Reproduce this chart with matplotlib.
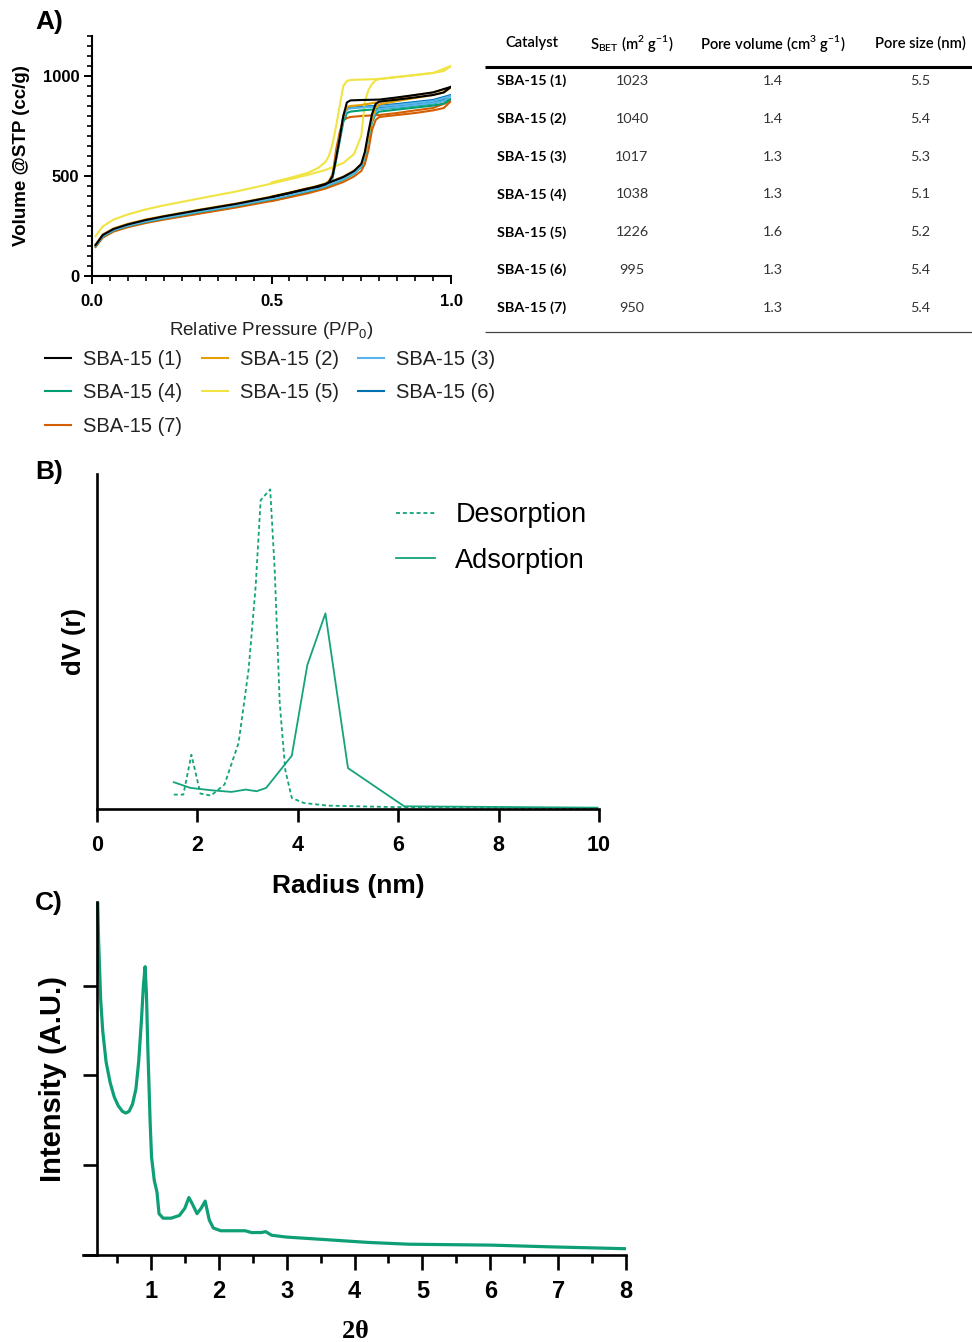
import numpy as np
import matplotlib
matplotlib.use("Agg")
import matplotlib.pyplot as plt

plt.rcParams['font.family'] = ['Liberation Sans', 'DejaVu Sans']

#### data: panel A isotherms
names = ['SBA-15 (1)', 'SBA-15 (2)', 'SBA-15 (3)', 'SBA-15 (4)',
         'SBA-15 (5)', 'SBA-15 (6)', 'SBA-15 (7)']
colors = ['#000000', '#E69F00', '#56B4E9', '#009E73', '#F0E442', '#0072B2', '#D55E00']

p_ads = [0.01, 0.03, 0.06, 0.10, 0.15, 0.20, 0.30, 0.40, 0.50, 0.60, 0.65, 0.70,
         0.73, 0.75, 0.76, 0.77, 0.78, 0.79, 0.80, 0.85, 0.90, 0.95, 0.98, 1.00]
v_ads = [
    [155, 205, 235, 258, 280, 298, 330, 360, 395, 435, 460, 495, 525, 560, 620, 720, 810, 860, 872, 882, 893, 905, 918, 946],
    [158, 208, 238, 261, 283, 300, 332, 362, 397, 437, 462, 497, 527, 558, 610, 700, 790, 840, 858, 875, 890, 905, 918, 942],
    [152, 200, 230, 252, 273, 290, 322, 352, 386, 425, 450, 485, 515, 548, 600, 700, 780, 820, 835, 845, 855, 865, 875, 900],
    [150, 198, 228, 250, 271, 288, 320, 350, 384, 423, 447, 482, 512, 545, 595, 690, 770, 810, 822, 832, 842, 852, 862, 885],
    [200, 248, 282, 308, 333, 353, 388, 422, 462, 505, 530, 565, 610, 700, 870, 930, 960, 978, 985, 995, 1005, 1015, 1025, 1050],
    [153, 202, 232, 254, 275, 292, 324, 354, 388, 428, 452, 488, 518, 550, 605, 705, 785, 825, 840, 850, 860, 870, 880, 905],
    [145, 192, 222, 244, 265, 282, 312, 342, 375, 413, 437, 470, 498, 525, 560, 630, 730, 780, 795, 805, 815, 828, 840, 875],
]
p_des = [1.00, 0.95, 0.90, 0.85, 0.80, 0.75, 0.72, 0.71, 0.70, 0.69, 0.68, 0.67,
         0.66, 0.65, 0.63, 0.60, 0.55, 0.50]
v_des = [
    [946, 918, 905, 893, 882, 880, 878, 868, 800, 690, 590, 500, 470, 458, 446, 437, 415, 395],
    [942, 918, 905, 890, 870, 855, 850, 845, 800, 700, 600, 510, 475, 462, 449, 439, 417, 397],
    [900, 875, 865, 855, 848, 842, 838, 832, 790, 690, 590, 495, 465, 453, 438, 427, 406, 386],
    [885, 862, 852, 842, 835, 828, 822, 815, 770, 675, 580, 490, 462, 450, 436, 425, 404, 384],
    [1050, 1015, 1005, 995, 985, 982, 980, 975, 950, 850, 750, 660, 600, 570, 540, 515, 490, 468],
    [905, 880, 870, 860, 852, 846, 842, 836, 795, 695, 595, 500, 468, 455, 440, 430, 408, 388],
    [875, 840, 828, 815, 805, 800, 795, 790, 778, 720, 632, 500, 470, 455, 438, 418, 395, 375],
]

#### table data
tab_header = ['Catalyst', r'S$_{\mathregular{BET}}$ (m$^{\mathregular{2}}$ g$^{\mathregular{-1}}$)',
              r'Pore volume (cm$^{\mathregular{3}}$ g$^{\mathregular{-1}}$)', 'Pore size (nm)']
s_bet = ['1023', '1040', '1017', '1038', '1226', '995', '950']
pore_vol = ['1.4', '1.4', '1.3', '1.3', '1.6', '1.3', '1.3']
pore_size = ['5.5', '5.4', '5.3', '5.1', '5.2', '5.4', '5.4']

#### data: panel B pore size distribution
rad_des = [1.53, 1.72, 1.88, 2.06, 2.27, 2.54, 2.82, 3.02, 3.16, 3.26, 3.45, 3.54, 3.64,
           3.75, 3.88, 4.12, 4.6, 5.84, 9.97]
dv_des = [0.043, 0.043, 0.162, 0.046, 0.040, 0.073, 0.197, 0.416, 0.664, 0.922, 0.954,
          0.714, 0.316, 0.117, 0.033, 0.018, 0.010, 0.006, 0.002]
rad_ads = [1.53, 1.86, 2.27, 2.68, 2.96, 3.18, 3.37, 3.88, 4.19, 4.55, 5.0, 6.12, 9.97]
dv_ads = [0.080, 0.063, 0.056, 0.051, 0.058, 0.053, 0.063, 0.159, 0.430, 0.584, 0.122, 0.008, 0.004]

#### data: panel C SAXS
two_theta = [0.217, 0.23, 0.26, 0.29, 0.34, 0.40, 0.46, 0.52, 0.58, 0.63, 0.68, 0.73, 0.78,
             0.82, 0.86, 0.89, 0.915, 0.935, 0.955, 0.99, 1.01, 1.05, 1.09, 1.12, 1.18, 1.30,
             1.42, 1.50, 1.56, 1.61, 1.68, 1.74, 1.80, 1.86, 1.92, 2.03, 2.27, 2.39, 2.48,
             2.63, 2.69, 2.78, 2.99, 3.60, 4.20, 4.80, 6.01, 6.92, 8.0]
intensity = [3.93, 3.50, 2.85, 2.50, 2.15, 1.92, 1.76, 1.66, 1.60, 1.58, 1.60, 1.68, 1.85,
             2.15, 2.60, 3.00, 3.21, 2.90, 2.30, 1.46, 1.09, 0.83, 0.70, 0.46, 0.41, 0.41,
             0.44, 0.52, 0.64, 0.57, 0.46, 0.52, 0.60, 0.39, 0.30, 0.27, 0.27, 0.27, 0.25,
             0.25, 0.26, 0.22, 0.20, 0.17, 0.14, 0.12, 0.11, 0.09, 0.07]

W, H = 972.0, 1342.0
def rect(x0, y0, x1, y1):
    return [x0 / W, 1 - y1 / H, (x1 - x0) / W, (y1 - y0) / H]

fig = plt.figure(figsize=(9.72, 13.42), dpi=100)

#### panel A
ax = fig.add_axes(rect(92, 36, 451, 276))
lines = []
for i in range(len(names)):
    l, = ax.plot(p_ads, v_ads[i], color=colors[i], lw=1.5, zorder=10 - i, label=names[i])
    ax.plot(p_des, v_des[i], color=colors[i], lw=1.5, zorder=10 - i)
    lines.append(l)
ax.set_xlim(0, 1)
ax.set_ylim(0, 1200)
ax.set_xticks([0, 0.5, 1.0])
ax.set_xticklabels(['0.0', '0.5', '1.0'])
ax.set_xticks(np.arange(0, 1.001, 0.05), minor=True)
ax.set_yticks([0, 500, 1000])
ax.set_yticks(np.arange(0, 1201, 50), minor=True)
for s in ['top', 'right']:
    ax.spines[s].set_visible(False)
for s in ['left', 'bottom']:
    ax.spines[s].set_linewidth(1.5)
ax.tick_params(which='major', length=6, width=1.4, labelsize=12, pad=3)
ax.tick_params(axis='x', which='major', pad=7)
ax.tick_params(which='minor', length=3.5, width=1.2)
for t in ax.get_xticklabels() + ax.get_yticklabels():
    t.set_fontweight('bold')
ax.set_xlabel(r'Relative Pressure (P/P$_{\mathregular{0}}$)', fontsize=13.5, color='#222222', labelpad=8)
ax.set_ylabel('Volume @STP (cc/g)', fontsize=13.5, fontweight='bold', labelpad=9)

order = [0, 3, 6, 1, 4, 2, 5]
fig.legend([lines[k] for k in order], [names[k] for k in order], ncol=3,
           loc='upper left', bbox_to_anchor=(45 / W, 1 - 350 / H), frameon=False,
           fontsize=14.5, handlelength=1.3, handletextpad=0.6, columnspacing=0.95,
           labelspacing=0.72, borderpad=0, borderaxespad=0, labelcolor='#222222')

#### table
axt = fig.add_axes(rect(485, 25, 972, 340))
axt.set_xlim(485, 972)
axt.set_ylim(340, 25)
axt.axis('off')
tfont = ['Lato', 'DejaVu Sans']
col_x = [532, 632, 773, 920]
for j in range(4):
    axt.text(col_x[j], 43, tab_header[j], ha='center', va='center', fontsize=10.6,
             fontweight='semibold', family=tfont)
axt.plot([485, 972], [67, 67], color='black', lw=2.2, solid_capstyle='butt')
axt.plot([485, 972], [332, 332], color='#444444', lw=0.9, solid_capstyle='butt')
for i in range(len(names)):
    y = 81 + i * 37.8
    axt.text(497, y, names[i], ha='left', va='center', fontsize=10.4, fontweight='bold', family=tfont)
    axt.text(col_x[1], y, s_bet[i], ha='center', va='center', fontsize=10.4, color='#333333', family=tfont)
    axt.text(col_x[2], y, pore_vol[i], ha='center', va='center', fontsize=10.4, color='#333333', family=tfont)
    axt.text(col_x[3], y, pore_size[i], ha='center', va='center', fontsize=10.4, color='#333333', family=tfont)

#### panel B
green = '#14A37B'
axb = fig.add_axes(rect(97, 474, 599, 809))
axb.plot(rad_des, dv_des, color=green, lw=1.3, dashes=(2.2, 1.6), label='Desorption')
axb.plot(rad_ads, dv_ads, color=green, lw=1.3, label='Adsorption')
axb.set_xlim(0, 10)
axb.set_ylim(0, 1)
axb.set_xticks([0, 2, 4, 6, 8, 10])
axb.set_yticks([])
for s in ['top', 'right']:
    axb.spines[s].set_visible(False)
for s in ['left', 'bottom']:
    axb.spines[s].set_linewidth(1.9)
axb.tick_params(axis='x', length=9, width=1.9, labelsize=15.5, pad=10)
for t in axb.get_xticklabels():
    t.set_fontweight('bold')
axb.set_xlabel('Radius (nm)', fontsize=19, fontweight='bold', labelpad=13)
axb.set_ylabel('dV (r)', fontsize=18.5, fontweight='bold', labelpad=8)
axb.legend(loc='upper left', bbox_to_anchor=(0.595, 0.915), frameon=False, fontsize=19.5,
           handlelength=1.45, handletextpad=0.75, labelspacing=0.72, borderpad=0,
           borderaxespad=0)

#### panel C
axc = fig.add_axes(rect(83, 902, 626, 1255))
axc.plot(two_theta, intensity, color='#0E9F76', lw=2.3)
axc.set_xlim(0, 8)
axc.set_ylim(0, 3.93)
axc.spines['left'].set_position(('data', 0.2))
axc.set_xticks(range(1, 9))
axc.set_xticks(np.arange(0.5, 8, 1.0), minor=True)
axc.set_yticks([0, 1, 2, 3])
axc.set_yticklabels([])
for s in ['top', 'right']:
    axc.spines[s].set_visible(False)
for s in ['left', 'bottom']:
    axc.spines[s].set_linewidth(1.9)
axc.tick_params(which='major', length=11, width=1.9, labelsize=17, pad=7)
axc.tick_params(which='minor', axis='x', length=6, width=1.9)
axc.tick_params(axis='y', length=10)
for t in axc.get_xticklabels():
    t.set_fontweight('bold')
    t.set_family(['Liberation Sans Narrow', 'Liberation Sans'])
axc.set_xlabel(r'2$\mathregular{\theta}$', fontsize=19, fontweight='bold',
               family=['Liberation Serif', 'DejaVu Serif'], labelpad=12)
axc.yaxis.set_label_coords(-0.03, 0.5)
axc.set_ylabel('Intensity (A.U.)', fontsize=21, fontweight='bold')

#### panel labels
for lab, yy in [('A)', 22), ('B)', 472), ('C)', 903)]:
    fig.text(35 / W, 1 - yy / H, lab, fontsize=19, fontweight='bold', ha='left', va='center')

fig.savefig('out.png', dpi=100)
